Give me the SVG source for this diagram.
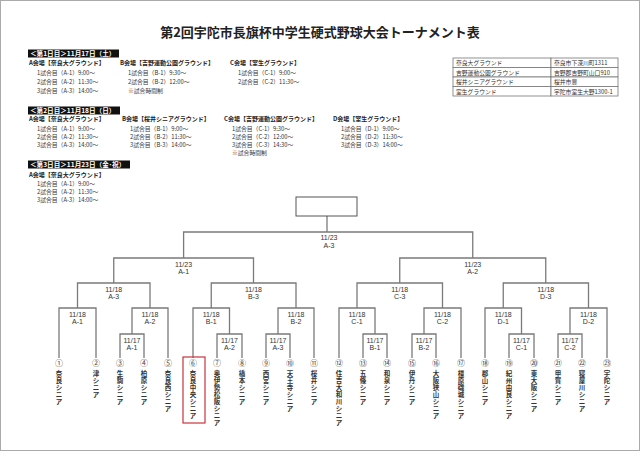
<svg xmlns="http://www.w3.org/2000/svg" width="640" height="451" viewBox="0 0 640 451">
<style>
.jp{font-family:"Noto Sans CJK JP","Liberation Sans",sans-serif;fill:#222}
.title{font-size:13px;font-weight:bold;text-anchor:middle}
.bar{fill:#111}
.bt{font-size:6.6px;font-weight:bold;fill:#fff}
.vn{font-size:6px;font-weight:bold}
.ln6{font-size:5.8px;fill:#333}
.tb{font-size:5.8px;fill:#333}
.cell{fill:#fff;stroke:#777;stroke-width:0.8}
.conn{fill:none;stroke:#7a7a7a;stroke-width:1.3}
.lb{font-family:"Liberation Sans","Noto Sans CJK JP",sans-serif;font-size:7px;fill:#333;text-anchor:middle}
.num{font-size:8px;fill:#444;text-anchor:middle}
.team{font-size:6.5px;font-weight:bold;fill:#333;text-anchor:middle}
</style>
<rect x="0.5" y="0.5" width="639" height="450" fill="#fff" stroke="#aaa"/>
<g id="title"><text class="jp title" x="320" y="37">第2回宇陀市長旗杯中学生硬式野球大会トーナメント表</text></g>

<g id="day1">
<rect class="bar" x="28" y="49.5" width="91" height="8"/>
<text class="jp bt" x="30" y="56">＜第1日目＞11月17日（土）</text>
<text class="jp vn" x="29" y="65">A会場【奈良大グラウンド】</text>
<text class="jp ln6" x="37" y="75">1試合目（A-1）9:00～</text>
<text class="jp ln6" x="37" y="84">2試合目（A-2）11:30～</text>
<text class="jp ln6" x="37" y="93">3試合目（A-3）14:00～</text>
<text class="jp vn" x="120" y="65">B会場【吉野運動公園グラウンド】</text>
<text class="jp ln6" x="128" y="75">1試合目（B-1）9:30～</text>
<text class="jp ln6" x="128" y="84">2試合目（B-2）12:00～</text>
<text class="jp ln6" x="128" y="93">※試合時間制</text>
<text class="jp vn" x="230" y="65">C会場【室生グラウンド】</text>
<text class="jp ln6" x="238" y="75">1試合目（C-1）9:00～</text>
<text class="jp ln6" x="238" y="84">2試合目（C-2）11:30～</text>
</g>

<g id="day2">
<rect class="bar" x="28" y="106.5" width="92" height="8"/>
<text class="jp bt" x="30" y="113">＜第2日目＞11月18日（日）</text>
<text class="jp vn" x="29" y="121">A会場【奈良大グラウンド】</text>
<text class="jp ln6" x="37" y="131">1試合目（A-1）9:00～</text>
<text class="jp ln6" x="37" y="139">2試合目（A-2）11:30～</text>
<text class="jp ln6" x="37" y="147">3試合目（A-3）14:00～</text>
<text class="jp vn" x="122" y="121">B会場【桜井シニアグラウンド】</text>
<text class="jp ln6" x="130" y="131">1試合目（B-1）9:00～</text>
<text class="jp ln6" x="130" y="139">2試合目（B-2）11:30～</text>
<text class="jp ln6" x="130" y="147">3試合目（B-3）14:00～</text>
<text class="jp vn" x="224" y="121">C会場【吉野運動公園グラウンド】</text>
<text class="jp ln6" x="232" y="131">1試合目（C-1）9:30～</text>
<text class="jp ln6" x="232" y="139">2試合目（C-2）12:00～</text>
<text class="jp ln6" x="232" y="147">3試合目（C-3）14:30～</text>
<text class="jp ln6" x="232" y="155">※試合時間制</text>
<text class="jp vn" x="333" y="121">D会場【室生グラウンド】</text>
<text class="jp ln6" x="341" y="131">1試合目（D-1）9:00～</text>
<text class="jp ln6" x="341" y="139">2試合目（D-2）11:30～</text>
<text class="jp ln6" x="341" y="147">3試合目（D-3）14:00～</text>
</g>

<g id="day3">
<rect class="bar" x="28" y="160.5" width="102" height="8"/>
<text class="jp bt" x="30" y="167">＜第3日目＞11月23日（金･祝）</text>
<text class="jp vn" x="29" y="177">A会場【奈良大グラウンド】</text>
<text class="jp ln6" x="37" y="186">1試合目（A-1）9:00～</text>
<text class="jp ln6" x="37" y="194">2試合目（A-2）11:30～</text>
<text class="jp ln6" x="37" y="202">3試合目（A-3）14:00～</text>
</g>

<g id="venues">
<rect class="cell" x="453" y="58" width="98" height="9.5"/>
<rect class="cell" x="551" y="58" width="67" height="9.5"/>
<rect class="cell" x="453" y="67.5" width="98" height="9.5"/>
<rect class="cell" x="551" y="67.5" width="67" height="9.5"/>
<rect class="cell" x="453" y="77" width="98" height="9.5"/>
<rect class="cell" x="551" y="77" width="67" height="9.5"/>
<rect class="cell" x="453" y="86.5" width="98" height="9.5"/>
<rect class="cell" x="551" y="86.5" width="67" height="9.5"/>
<text class="jp tb" x="456" y="65">奈良大グラウンド</text>
<text class="jp tb" x="554" y="65" font-size="5.2">奈良市下深川町1311</text>
<text class="jp tb" x="456" y="74.5">吉野運動公園グラウンド</text>
<text class="jp tb" x="554" y="74.5" font-size="5.2">吉野郡吉野町山口910</text>
<text class="jp tb" x="456" y="84">桜井シニアグラウンド</text>
<text class="jp tb" x="554" y="84" font-size="5.2">桜井市豊</text>
<text class="jp tb" x="456" y="93.5">室生グラウンド</text>
<text class="jp tb" x="554" y="93.5" font-size="5.2">宇陀市室生大野1300-1</text>
</g>

<g id="connectors" class="conn">
<path d="M327 232V216"/>
<path d="M183.6 258V232H472.75V258"/>
<path d="M113.75 283V258H253.5V283"/>
<path d="M399.75 283V258H545.75V283"/>
<path d="M77.5 308V283H150V308"/>
<path d="M211.25 308V283H296V308"/>
<path d="M357 308V283H442.5V308"/>
<path d="M503.25 308V283H588.5V308"/>
<path d="M59 358V308H96V358"/>
<path d="M132 334V308H168V358"/>
<path d="M193 358V308H229.5V334"/>
<path d="M278 334V308H314V358"/>
<path d="M339 358V308H375V334"/>
<path d="M424 334V308H461V358"/>
<path d="M485 358V308H521.5V334"/>
<path d="M570 334V308H607V358"/>
<path d="M120 358V334H144V358"/>
<path d="M217 358V334H242V358"/>
<path d="M266 358V334H290V358"/>
<path d="M363 358V334H387V358"/>
<path d="M412 358V334H436V358"/>
<path d="M509 358V334H534V358"/>
<path d="M558 358V334H582V358"/>
</g>

<g id="final"><rect x="296" y="197" width="61" height="19" fill="#fff" stroke="#555" stroke-width="1"/><text class="lb" x="329" y="240">11/23</text><text class="lb" x="329" y="247.5">A-3</text></g>
<g id="m23-A1"><text class="lb" x="183.6" y="266.5">11/23</text><text class="lb" x="183.6" y="274">A-1</text></g>
<g id="m23-A2"><text class="lb" x="472.75" y="266.5">11/23</text><text class="lb" x="472.75" y="274">A-2</text></g>
<g id="m18-A3"><text class="lb" x="113.75" y="291.5">11/18</text><text class="lb" x="113.75" y="299">A-3</text></g>
<g id="m18-B3"><text class="lb" x="253.5" y="291.5">11/18</text><text class="lb" x="253.5" y="299">B-3</text></g>
<g id="m18-C3"><text class="lb" x="399.75" y="291.5">11/18</text><text class="lb" x="399.75" y="299">C-3</text></g>
<g id="m18-D3"><text class="lb" x="545.75" y="291.5">11/18</text><text class="lb" x="545.75" y="299">D-3</text></g>
<g id="m18-A1"><text class="lb" x="77.5" y="316.5">11/18</text><text class="lb" x="77.5" y="324">A-1</text></g>
<g id="m18-A2"><text class="lb" x="150" y="316.5">11/18</text><text class="lb" x="150" y="324">A-2</text></g>
<g id="m18-B1"><text class="lb" x="211.25" y="316.5">11/18</text><text class="lb" x="211.25" y="324">B-1</text></g>
<g id="m18-B2"><text class="lb" x="296" y="316.5">11/18</text><text class="lb" x="296" y="324">B-2</text></g>
<g id="m18-C1"><text class="lb" x="357" y="316.5">11/18</text><text class="lb" x="357" y="324">C-1</text></g>
<g id="m18-C2"><text class="lb" x="442.5" y="316.5">11/18</text><text class="lb" x="442.5" y="324">C-2</text></g>
<g id="m18-D1"><text class="lb" x="503.25" y="316.5">11/18</text><text class="lb" x="503.25" y="324">D-1</text></g>
<g id="m18-D2"><text class="lb" x="588.5" y="316.5">11/18</text><text class="lb" x="588.5" y="324">D-2</text></g>
<g id="m17-A1"><text class="lb" x="132" y="342.5">11/17</text><text class="lb" x="132" y="350">A-1</text></g>
<g id="m17-A2"><text class="lb" x="229.5" y="342.5">11/17</text><text class="lb" x="229.5" y="350">A-2</text></g>
<g id="m17-A3"><text class="lb" x="278" y="342.5">11/17</text><text class="lb" x="278" y="350">A-3</text></g>
<g id="m17-B1"><text class="lb" x="375" y="342.5">11/17</text><text class="lb" x="375" y="350">B-1</text></g>
<g id="m17-B2"><text class="lb" x="424" y="342.5">11/17</text><text class="lb" x="424" y="350">B-2</text></g>
<g id="m17-C1"><text class="lb" x="521.5" y="342.5">11/17</text><text class="lb" x="521.5" y="350">C-1</text></g>
<g id="m17-C2"><text class="lb" x="570" y="342.5">11/17</text><text class="lb" x="570" y="350">C-2</text></g>

<g id="t1"><text class="jp num" x="59" y="366">①</text><text class="jp team" x="59 59 59 59 59" y="376 383 390 397 404">奈良シニア</text></g>
<g id="t2"><text class="jp num" x="96" y="366">②</text><text class="jp team" x="96 96 96 96" y="376 383 390 397">津シニア</text></g>
<g id="t3"><text class="jp num" x="120" y="366">③</text><text class="jp team" x="120 120 120 120 120" y="376 383 390 397 404">生駒シニア</text></g>
<g id="t4"><text class="jp num" x="144" y="366">④</text><text class="jp team" x="144 144 144 144 144" y="376 383 390 397 404">柏原シニア</text></g>
<g id="t5"><text class="jp num" x="168" y="366">⑤</text><text class="jp team" x="168 168 168 168 168 168" y="376 383 390 397 404 411">奈良西シニア</text></g>
<g id="t6"><rect x="183" y="357" width="22" height="66" fill="none" stroke="#c8323c" stroke-width="1.2"/><text class="jp num" x="193" y="366">⑥</text><text class="jp team" x="193 193 193 193 193 193 193" y="376 383 390 397 404 411 418">奈良中央シニア</text></g>
<g id="t7"><text class="jp num" x="217" y="366">⑦</text><text class="jp team" x="217 217 217 217 217 217 217 217" y="376 383 390 397 404 411 418 425">奥伊勢松阪シニア</text></g>
<g id="t8"><text class="jp num" x="242" y="366">⑧</text><text class="jp team" x="242 242 242 242 242" y="376 383 390 397 404">橋本シニア</text></g>
<g id="t9"><text class="jp num" x="266" y="366">⑨</text><text class="jp team" x="266 266 266 266 266" y="376 383 390 397 404">西宮シニア</text></g>
<g id="t10"><text class="jp num" x="290" y="366">⑩</text><text class="jp team" x="290 290 290 290 290 290" y="376 383 390 397 404 411">天王寺シニア</text></g>
<g id="t11"><text class="jp num" x="314" y="366">⑪</text><text class="jp team" x="314 314 314 314 314" y="376 383 390 397 404">桜井シニア</text></g>
<g id="t12"><text class="jp num" x="339" y="366">⑫</text><text class="jp team" x="339 339 339 339 339 339 339 339" y="376 383 390 397 404 411 418 425">住吉大和川シニア</text></g>
<g id="t13"><text class="jp num" x="363" y="366">⑬</text><text class="jp team" x="363 363 363 363 363" y="376 383 390 397 404">五條シニア</text></g>
<g id="t14"><text class="jp num" x="387" y="366">⑭</text><text class="jp team" x="387 387 387 387 387" y="376 383 390 397 404">和泉シニア</text></g>
<g id="t15"><text class="jp num" x="412" y="366">⑮</text><text class="jp team" x="412 412 412 412 412" y="376 383 390 397 404">伊丹シニア</text></g>
<g id="t16"><text class="jp num" x="436" y="366">⑯</text><text class="jp team" x="436 436 436 436 436 436 436" y="376 383 390 397 404 411 418">大阪狭山シニア</text></g>
<g id="t17"><text class="jp num" x="461" y="366">⑰</text><text class="jp team" x="461 461 461 461 461 461 461" y="376 383 390 397 404 411 418">橿原磯城シニア</text></g>
<g id="t18"><text class="jp num" x="485" y="366">⑱</text><text class="jp team" x="485 485 485 485 485" y="376 383 390 397 404">郡山シニア</text></g>
<g id="t19"><text class="jp num" x="509" y="366">⑲</text><text class="jp team" x="509 509 509 509 509 509 509" y="376 383 390 397 404 411 418">紀州由良シニア</text></g>
<g id="t20"><text class="jp num" x="534" y="366">⑳</text><text class="jp team" x="534 534 534 534 534 534" y="376 383 390 397 404 411">東大阪シニア</text></g>
<g id="t21"><text class="jp num" x="558" y="366">㉑</text><text class="jp team" x="558 558 558 558 558" y="376 383 390 397 404">甲賀シニア</text></g>
<g id="t22"><text class="jp num" x="582" y="366">㉒</text><text class="jp team" x="582 582 582 582 582 582" y="376 383 390 397 404 411">寝屋川シニア</text></g>
<g id="t23"><text class="jp num" x="607" y="366">㉓</text><text class="jp team" x="607 607 607 607 607" y="376 383 390 397 404">宇陀シニア</text></g>
</svg>
